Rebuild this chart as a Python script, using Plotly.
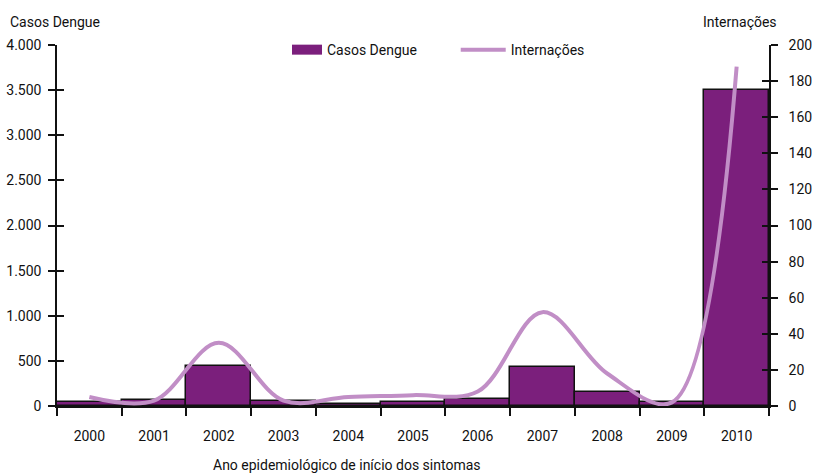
import plotly.graph_objects as go

# Annual dengue cases (left axis) and hospitalisations (right axis)
anos = [2000, 2001, 2002, 2003, 2004, 2005, 2006, 2007, 2008, 2009, 2010]
casos_dengue = [48, 65, 446, 60, 25, 45, 80, 429, 152, 41, 3500]
internacoes = [5, 3, 35, 3, 5, 6, 8, 52, 18, 2, 188]

y1_ticks = list(range(0, 4001, 500))
y2_ticks = list(range(0, 201, 20))
limites = [a - 0.5 for a in anos] + [anos[-1] + 0.5]

FONT = "Roboto, Open Sans, sans-serif"
BAR_COLOR = "#7b1f7c"
LINE_COLOR = "#c18ec6"
INK = "#111111"

fig = go.Figure()

fig.add_trace(go.Bar(
    x=anos, y=casos_dengue, name="Casos Dengue", width=1,
    marker=dict(color=BAR_COLOR, line=dict(color=INK, width=1.5)),
    yaxis="y", showlegend=False, legendgroup="casos",
))
fig.add_trace(go.Scatter(
    x=anos, y=internacoes, name="Internações", mode="lines",
    line=dict(color=LINE_COLOR, width=4, shape="spline", smoothing=1.0),
    yaxis="y2", legend="legend2",
))
# legend key for the bars: a flat filled strip
fig.add_trace(go.Scatter(
    x=[None], y=[None], name="Casos Dengue", mode="lines",
    line=dict(color=BAR_COLOR, width=10), legendgroup="casos", legend="legend",
))
# invisible companions so the inner tick overlays are drawn
fig.add_trace(go.Scatter(x=anos, y=casos_dengue, yaxis="y3", mode="lines",
                         line=dict(width=0), showlegend=False, hoverinfo="skip"))
fig.add_trace(go.Scatter(x=anos, y=internacoes, yaxis="y4", mode="lines",
                         line=dict(width=0), showlegend=False, hoverinfo="skip"))

axis_font = dict(family=FONT, size=14, color=INK)
legend_common = dict(orientation="h", yanchor="middle", xanchor="left",
                     font=dict(family=FONT, size=14, color=INK),
                     bgcolor="rgba(0,0,0,0)", borderwidth=0)

fig.update_layout(
    width=815, height=476,
    margin=dict(l=57, r=46, t=45, b=70, autoexpand=False),
    paper_bgcolor="white", plot_bgcolor="white",
    separators=",.",
    font=dict(family=FONT, size=14, color=INK),
    bargap=0,
    showlegend=True,
    legend=dict(x=0.323, y=0.986, itemwidth=30, **legend_common),
    legend2=dict(x=0.560, y=0.986, itemwidth=45, **legend_common),
    xaxis=dict(
        range=[1999.5, 2010.5], tickmode="array", tickvals=anos,
        ticktext=[str(a) for a in anos], ticks="", showgrid=False,
        showline=True, linecolor=INK, linewidth=1.5, tickfont=axis_font,
        zeroline=False, ticklabelstandoff=16, automargin=False,
        minor=dict(tickmode="array", tickvals=limites, ticks="outside",
                   ticklen=8, tickwidth=1.5, tickcolor=INK, showgrid=False),
    ),
    yaxis=dict(
        range=[0, 4000], tickmode="array", tickvals=y1_ticks, tickformat=",d",
        ticks="outside", ticklen=7, tickwidth=1.5, tickcolor=INK,
        showline=True, linecolor=INK, linewidth=1.5, showgrid=False,
        zeroline=False, tickfont=axis_font, ticklabelstandoff=4, automargin=False,
    ),
    yaxis2=dict(
        range=[0, 200], tickmode="array", tickvals=y2_ticks, overlaying="y",
        side="right", ticks="outside", ticklen=7, tickwidth=1.5, tickcolor=INK,
        showline=True, linecolor=INK, linewidth=1.5, showgrid=False,
        zeroline=False, tickfont=axis_font, ticklabelstandoff=8, automargin=False,
    ),
    yaxis3=dict(
        range=[0, 4000], tickmode="array", tickvals=y1_ticks, overlaying="y",
        side="left", ticks="inside", ticklen=7, tickwidth=1.5, tickcolor=INK,
        showticklabels=False, showline=False, showgrid=False, zeroline=False,
        automargin=False,
    ),
    yaxis4=dict(
        range=[0, 200], tickmode="array", tickvals=y2_ticks, overlaying="y",
        side="right", ticks="inside", ticklen=7, tickwidth=1.5, tickcolor=INK,
        showticklabels=False, showline=False, showgrid=False, zeroline=False,
        automargin=False,
    ),
    annotations=[
        dict(text="Casos Dengue", xref="paper", yref="paper", x=-0.069, y=1.064,
             xanchor="left", yanchor="middle", showarrow=False,
             font=dict(family=FONT, size=14)),
        dict(text="Internações", xref="paper", yref="paper", x=0.959, y=1.064,
             xanchor="center", yanchor="middle", showarrow=False,
             font=dict(family=FONT, size=14)),
        dict(text="Ano epidemiológico de início dos sintomas", xref="paper",
             yref="paper", x=0.407, y=-0.163, xanchor="center", yanchor="middle",
             showarrow=False, font=dict(family=FONT, size=14)),
    ],
)

fig.write_html("out.html")
